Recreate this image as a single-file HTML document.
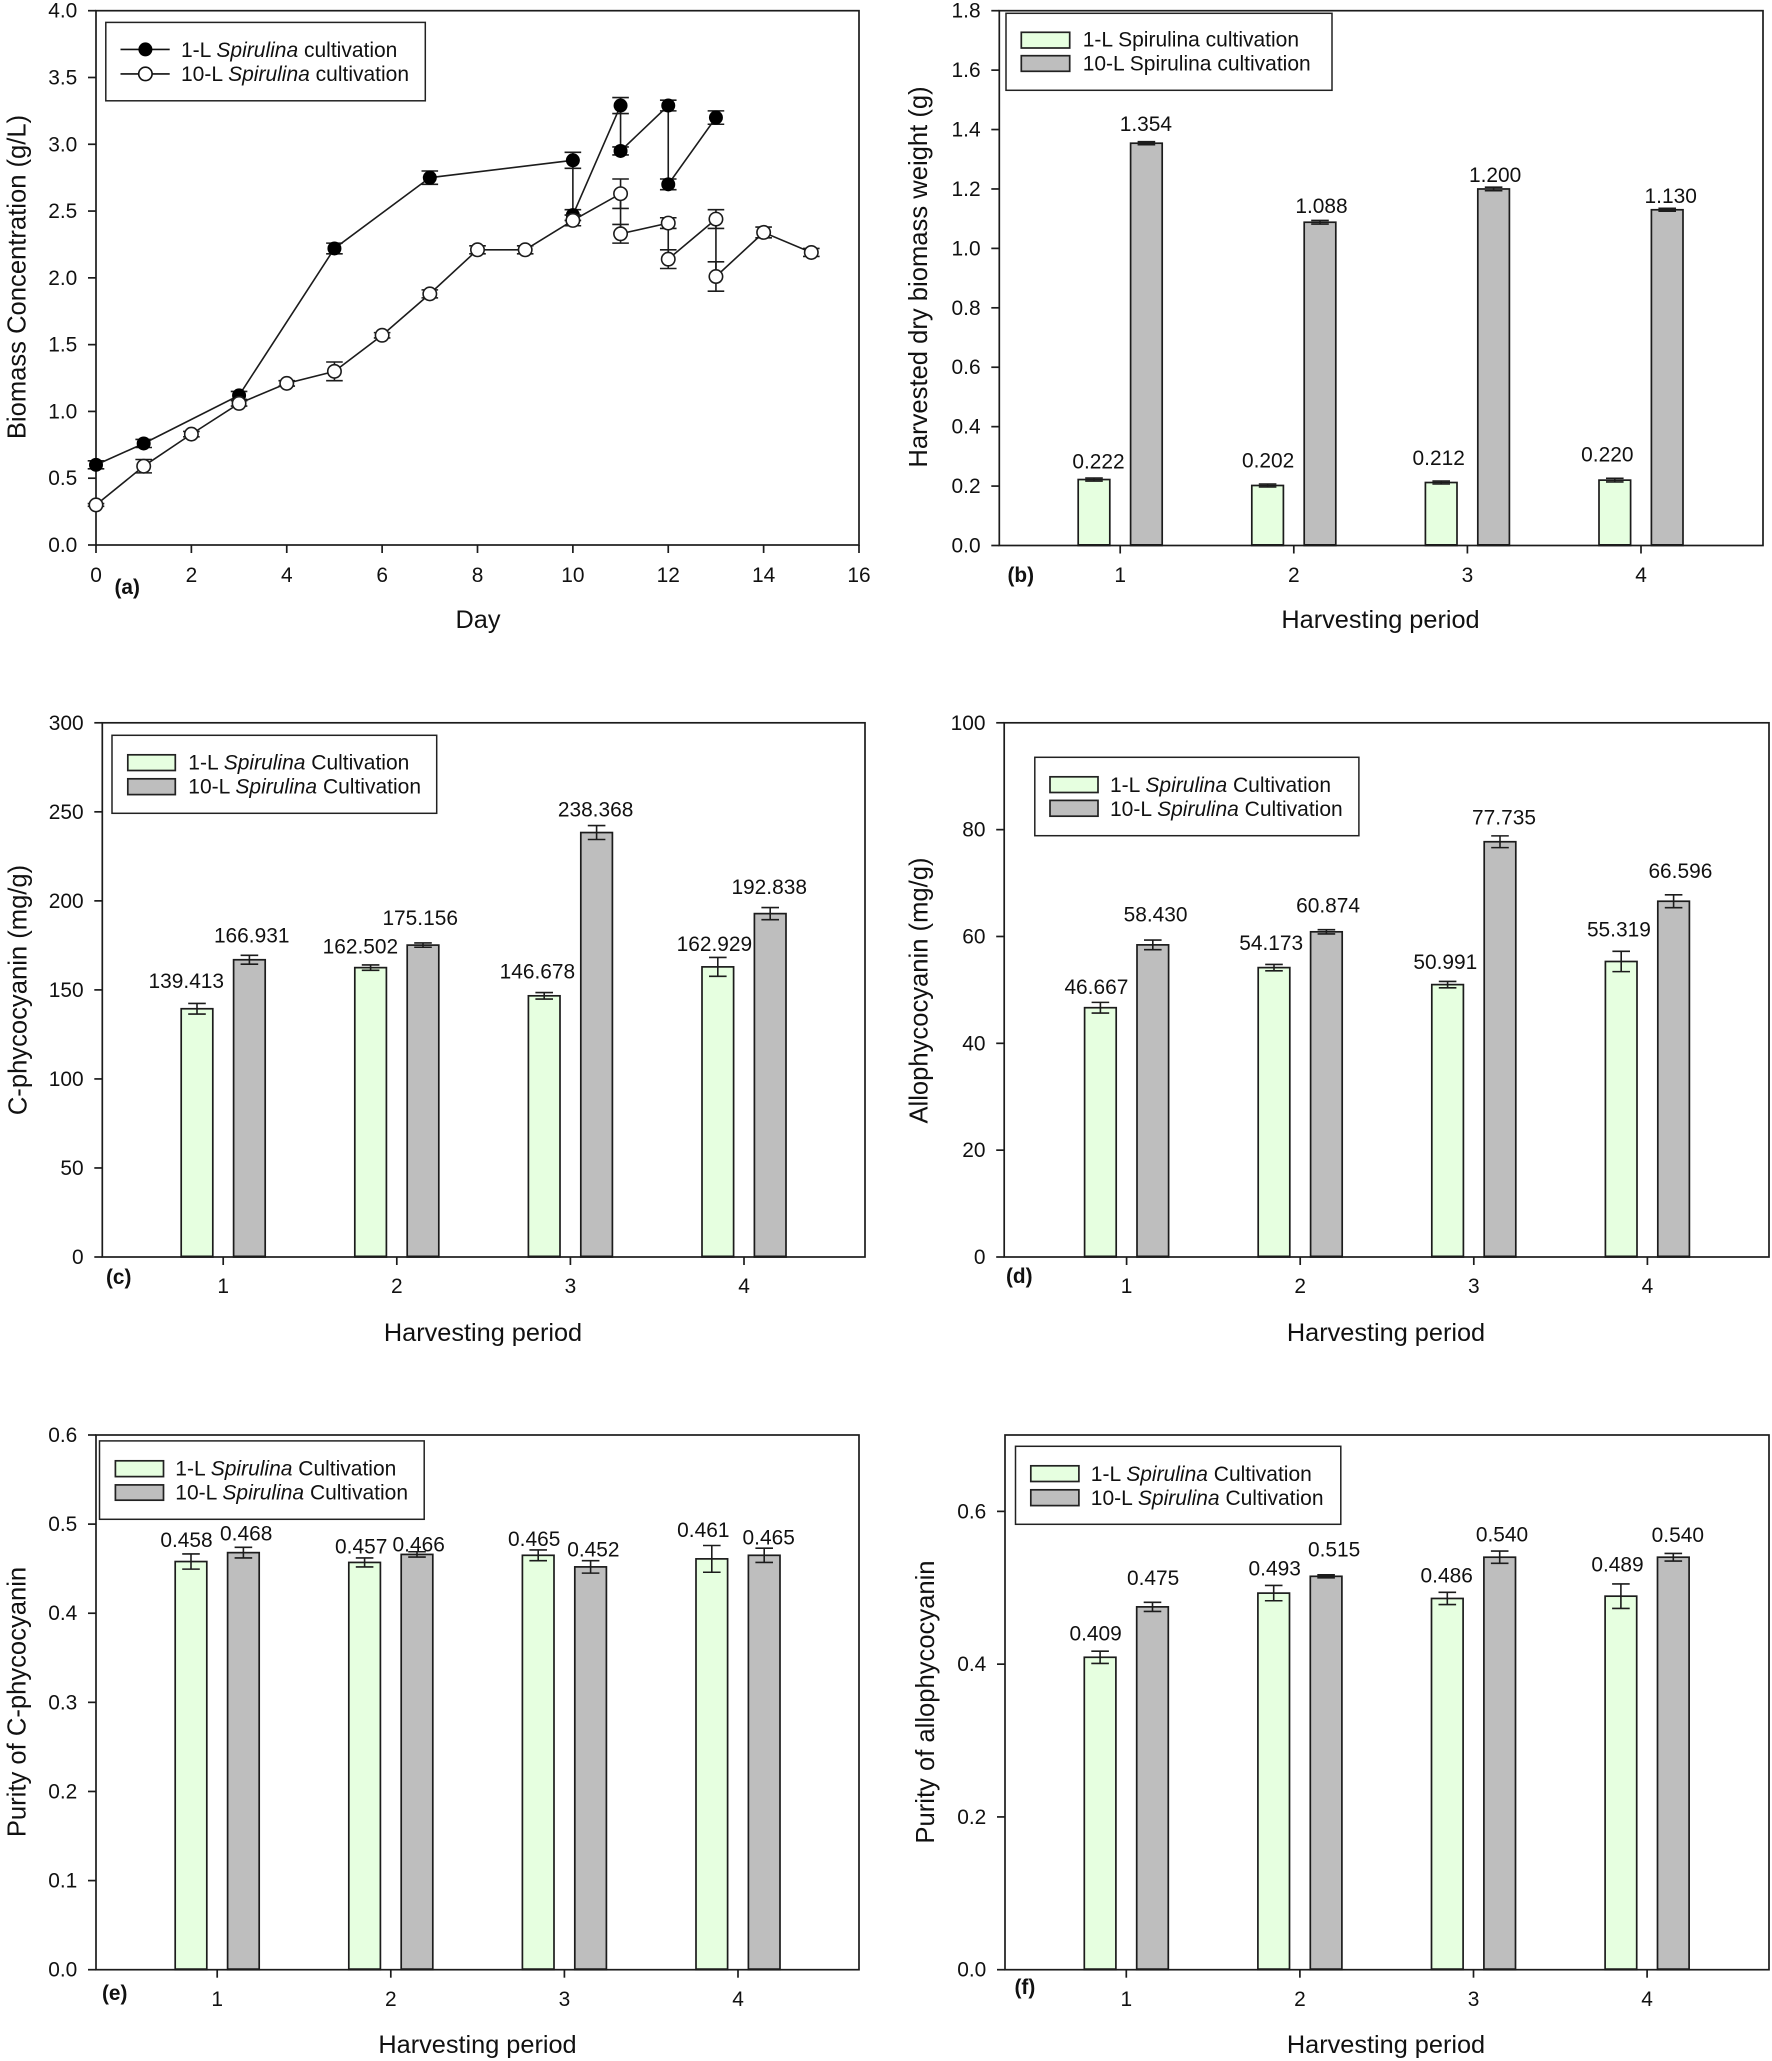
<!DOCTYPE html>
<html lang="en">
<head>
<meta charset="utf-8">
<title>Spirulina cultivation charts</title>
<style>
  html, body { margin: 0; padding: 0; background: #fff; }
  svg { display: block; }
  text { font-family: "Liberation Sans", sans-serif; fill: #111; }
  .leg { font-size: 21px; }
  .title { font-size: 25.3px; }
  .ytitle { font-size: 25.6px; }
  .tag { font-size: 20.8px; font-weight: bold; }
  .box { fill: #fff; stroke: #222; stroke-width: 1.5; }
  .sw1 { fill: #e6ffe0; stroke: #222; stroke-width: 1.7; }
  .sw2 { fill: #bebebe; stroke: #222; stroke-width: 1.7; }
  i, .it { font-style: italic; }
</style>
</head>
<body>
<svg id="fig" xmlns="http://www.w3.org/2000/svg" width="1772" height="2061" viewBox="0 0 1772 2061">
  <rect x="0" y="0" width="1772" height="2061" fill="#fff"/>

  <g id="panel-a"></g>
  <g id="panel-b"></g>
  <g id="panel-c"></g>
  <g id="panel-d"></g>
  <g id="panel-e"></g>
  <g id="panel-f"></g>

  <!-- Panel a static text -->
  <text class="ytitle" x="25.5" y="277" text-anchor="middle" transform="rotate(-90 25.5 277)">Biomass Concentration (g/L)</text>
  <text class="title" x="478" y="628" text-anchor="middle">Day</text>
  <text class="tag" x="114.5" y="594">(a)</text>
  <g>
    <rect class="box" x="105.8" y="22.4" width="319.5" height="78.4"/>
    <line x1="120.5" y1="49.4" x2="169.7" y2="49.4" stroke="#111" stroke-width="1.6"/>
    <circle cx="145.4" cy="49.4" r="7" fill="#000"/>
    <line x1="120.5" y1="73.9" x2="169.7" y2="73.9" stroke="#111" stroke-width="1.6"/>
    <circle cx="145.4" cy="73.9" r="6.7" fill="#fff" stroke="#111" stroke-width="1.6"/>
    <text class="leg" x="181" y="56.8">1-L <tspan class="it">Spirulina</tspan> cultivation</text>
    <text class="leg" x="181" y="80.9">10-L <tspan class="it">Spirulina</tspan> cultivation</text>
  </g>

  <!-- Panel b static text -->
  <text class="ytitle" x="927" y="277" text-anchor="middle" transform="rotate(-90 927 277)">Harvested dry biomass weight (g)</text>
  <text class="title" x="1380.5" y="628" text-anchor="middle">Harvesting period</text>
  <text class="tag" x="1007.5" y="582">(b)</text>
  <g>
    <rect class="box" x="1006" y="13.3" width="326" height="77"/>
    <rect class="sw1" x="1021.3" y="32.3" width="48.4" height="15.7"/>
    <rect class="sw2" x="1021.3" y="55.7" width="48.4" height="15.6"/>
    <text class="leg" x="1082.7" y="46.7">1-L Spirulina cultivation</text>
    <text class="leg" x="1082.7" y="70.7">10-L Spirulina cultivation</text>
  </g>

  <!-- Panel c static text -->
  <text class="ytitle" x="26.5" y="990" text-anchor="middle" transform="rotate(-90 26.5 990)">C-phycocyanin (mg/g)</text>
  <text class="title" x="483" y="1341" text-anchor="middle">Harvesting period</text>
  <text class="tag" x="106" y="1284">(c)</text>
  <g>
    <rect class="box" x="112" y="735.3" width="324.7" height="78"/>
    <rect class="sw1" x="127.8" y="754.8" width="47.5" height="15.7"/>
    <rect class="sw2" x="127.8" y="778.8" width="47.5" height="15.8"/>
    <text class="leg" x="188.3" y="769.7">1-L <tspan class="it">Spirulina</tspan> Cultivation</text>
    <text class="leg" x="188.3" y="793.4">10-L <tspan class="it">Spirulina</tspan> Cultivation</text>
  </g>

  <!-- Panel d static text -->
  <text class="ytitle" x="927.3" y="990.5" text-anchor="middle" transform="rotate(-90 927.3 990.5)">Allophycocyanin (mg/g)</text>
  <text class="title" x="1386" y="1341" text-anchor="middle">Harvesting period</text>
  <text class="tag" x="1006" y="1283">(d)</text>
  <g>
    <rect class="box" x="1034.8" y="757.3" width="324.1" height="78.4"/>
    <rect class="sw1" x="1050" y="776.8" width="48" height="15.7"/>
    <rect class="sw2" x="1050" y="800.4" width="48" height="15.8"/>
    <text class="leg" x="1110" y="792">1-L <tspan class="it">Spirulina</tspan> Cultivation</text>
    <text class="leg" x="1110" y="815.8">10-L <tspan class="it">Spirulina</tspan> Cultivation</text>
  </g>

  <!-- Panel e static text -->
  <text class="ytitle" x="25.5" y="1702" text-anchor="middle" transform="rotate(-90 25.5 1702)">Purity of C-phycocyanin</text>
  <text class="title" x="477.5" y="2053" text-anchor="middle">Harvesting period</text>
  <text class="tag" x="102" y="2000">(e)</text>
  <g>
    <rect class="box" x="99.5" y="1440.9" width="324.7" height="78.4"/>
    <rect class="sw1" x="115.4" y="1460.8" width="48.1" height="15.8"/>
    <rect class="sw2" x="115.4" y="1484.9" width="48.1" height="15.3"/>
    <text class="leg" x="175.3" y="1475.7">1-L <tspan class="it">Spirulina</tspan> Cultivation</text>
    <text class="leg" x="175.3" y="1499.4">10-L <tspan class="it">Spirulina</tspan> Cultivation</text>
  </g>

  <!-- Panel f static text -->
  <text class="ytitle" x="934" y="1702" text-anchor="middle" transform="rotate(-90 934 1702)">Purity of allophycocyanin</text>
  <text class="title" x="1386" y="2053" text-anchor="middle">Harvesting period</text>
  <text class="tag" x="1014.5" y="1994">(f)</text>
  <g>
    <rect class="box" x="1015.5" y="1446.3" width="325.3" height="78"/>
    <rect class="sw1" x="1030.8" y="1465.8" width="48.1" height="15.7"/>
    <rect class="sw2" x="1030.8" y="1489.8" width="48.1" height="15.8"/>
    <text class="leg" x="1090.8" y="1481">1-L <tspan class="it">Spirulina</tspan> Cultivation</text>
    <text class="leg" x="1090.8" y="1505.2">10-L <tspan class="it">Spirulina</tspan> Cultivation</text>
  </g>
</svg>

<script>
// ---- Panel a data ----
const aXTicks = ['0', '2', '4', '6', '8', '10', '12', '14', '16'];
const aYTicks = ['0.0', '0.5', '1.0', '1.5', '2.0', '2.5', '3.0', '3.5', '4.0'];
const aDays1L = [0, 1, 3, 5, 7, 10, 10, 11, 11, 12, 12, 13];
const aBiomass1L = [0.60, 0.76, 1.12, 2.22, 2.75, 2.88, 2.47, 3.29, 2.95, 3.29, 2.70, 3.20];
const aError1L = [0.03, 0.03, 0.03, 0.04, 0.05, 0.06, 0.04, 0.06, 0.03, 0.04, 0.04, 0.05];
const aDays10L = [0, 1, 2, 3, 4, 5, 6, 7, 8, 9, 10, 11, 11, 12, 12, 13, 13, 14, 15];
const aBiomass10L = [0.30, 0.59, 0.83, 1.06, 1.21, 1.30, 1.57, 1.88, 2.21, 2.21, 2.43, 2.63, 2.33, 2.41, 2.14, 2.44, 2.01, 2.34, 2.19];
const aError10L = [0.01, 0.05, 0.02, 0.02, 0.02, 0.07, 0.02, 0.03, 0.03, 0.03, 0.04, 0.11, 0.07, 0.04, 0.07, 0.07, 0.11, 0.04, 0.03];

// ---- Shared category labels ----
const periods = ['1', '2', '3', '4'];

// ---- Panel b data ----
const bYTicks = ['0.0', '0.2', '0.4', '0.6', '0.8', '1.0', '1.2', '1.4', '1.6', '1.8'];
const bValues1L = [0.222, 0.202, 0.212, 0.220];
const bValues10L = [1.354, 1.088, 1.200, 1.130];
const bError1L = [0.005, 0.005, 0.005, 0.006];
const bError10L = [0.005, 0.006, 0.006, 0.005];

// ---- Panel c data ----
const cYTicks = ['0', '50', '100', '150', '200', '250', '300'];
const cValues1L = [139.413, 162.502, 146.678, 162.929];
const cValues10L = [166.931, 175.156, 238.368, 192.838];
const cError1L = [3.0, 1.5, 1.8, 5.3];
const cError10L = [2.5, 1.2, 3.9, 3.4];

// ---- Panel d data ----
const dYTicks = ['0', '20', '40', '60', '80', '100'];
const dValues1L = [46.667, 54.173, 50.991, 55.319];
const dValues10L = [58.430, 60.874, 77.735, 66.596];
const dError1L = [1.0, 0.6, 0.6, 1.9];
const dError10L = [0.9, 0.4, 1.1, 1.2];

// ---- Panel e data ----
const eYTicks = ['0.0', '0.1', '0.2', '0.3', '0.4', '0.5', '0.6'];
const eValues1L = [0.458, 0.457, 0.465, 0.461];
const eValues10L = [0.468, 0.466, 0.452, 0.465];
const eError1L = [0.0085, 0.005, 0.006, 0.015];
const eError10L = [0.006, 0.003, 0.007, 0.008];

// ---- Panel f data ----
const fYTicks = ['0.0', '0.2', '0.4', '0.6'];
const fValues1L = [0.409, 0.493, 0.486, 0.489];
const fValues10L = [0.475, 0.515, 0.540, 0.540];
const fError1L = [0.008, 0.010, 0.008, 0.016];
const fError10L = [0.006, 0.002, 0.008, 0.005];

const NS = 'http://www.w3.org/2000/svg';
const INK = '#1c1c1c';

function add(tag, parent, name, attrs) {
  const el = document.createElementNS(NS, tag);
  
  
  for (const k in attrs) el.setAttribute(k, attrs[k]);
  parent.appendChild(el);
  return el;
}

function line(parent, name, x1, y1, x2, y2, w) {
  return add('line', parent, name, { x1: x1, y1: y1, x2: x2, y2: y2, stroke: INK, 'stroke-width': w || 1.7 });
}

function label(parent, name, x, y, str, anchor) {
  const t = add('text', parent, name, { x: x, y: y, 'text-anchor': anchor || 'middle', 'font-size': 20.9 });
  t.textContent = str;
  return t;
}

function axes(g, box, yTicks, yMax) {
  const yAt = function (v) { return box.bottom - (v / yMax) * (box.bottom - box.top); };
  add('rect', g, 'plot-frame', {
    x: box.left, y: box.top, width: box.right - box.left, height: box.bottom - box.top,
    fill: 'none', stroke: INK, 'stroke-width': 1.7
  });
  yTicks.forEach(function (tick) {
    const y = yAt(parseFloat(tick));
    line(g, 'y-tick', box.left - 8, y, box.left, y);
    label(g, 'y-tick-label', box.left - 18.7, y + 7, tick, 'end');
  });
  return yAt;
}

function errorBar(g, name, x, yHi, yLo, cap) {
  line(g, name + '-stem', x, yHi, x, yLo, 1.6);
  line(g, name + '-cap-top', x - cap, yHi, x + cap, yHi, 1.6);
  line(g, name + '-cap-bottom', x - cap, yLo, x + cap, yLo, 1.6);
}

function drawSeries(g, name, xAt, yAt, days, vals, errs, filled) {
  const s = add('g', g, name, {});
  const pts = days.map(function (d, i) { return xAt(d) + ',' + yAt(vals[i]); }).join(' ');
  add('polyline', s, name + '-line', { points: pts, fill: 'none', stroke: INK, 'stroke-width': 1.6 });
  days.forEach(function (d, i) {
    errorBar(s, name + '-error', xAt(d), yAt(vals[i] + errs[i]), yAt(vals[i] - errs[i]), 8.3);
  });
  days.forEach(function (d, i) {
    add('circle', s, name + '-point', filled
      ? { cx: xAt(d), cy: yAt(vals[i]), r: 7, fill: '#000' }
      : { cx: xAt(d), cy: yAt(vals[i]), r: 6.7, fill: '#fff', stroke: INK, 'stroke-width': 1.6 });
  });
}

function linePanel() {
  const g = document.getElementById('panel-a');
  const box = { left: 96, right: 859, top: 10.7, bottom: 545 };
  const yAt = axes(g, box, aYTicks, 4);
  const xAt = function (d) { return box.left + (d / 16) * (box.right - box.left); };
  aXTicks.forEach(function (tick) {
    const x = xAt(parseFloat(tick));
    line(g, 'x-tick', x, box.bottom, x, box.bottom + 8);
    label(g, 'x-tick-label', x, box.bottom + 37, tick);
  });
  drawSeries(g, 'series-1l', xAt, yAt, aDays1L, aBiomass1L, aError1L, true);
  drawSeries(g, 'series-10l', xAt, yAt, aDays10L, aBiomass10L, aError10L, false);
}

function barPanel(id, box, layout, yTicks, yMax, small, large, smallErr, largeErr, nudgeSmall, nudgeLarge) {
  const g = document.getElementById(id);
  const yAt = axes(g, box, yTicks, yMax);
  const xAt = function (i) { return layout.first + i * 173.6; };
  periods.forEach(function (cat, i) {
    const x = xAt(i);
    line(g, 'x-tick', x, box.bottom, x, box.bottom + 8);
    label(g, 'x-tick-label', x, box.bottom + layout.tickText, cat);
  });
  const series = [
    { name: 'bar-1l', vals: small, errs: smallErr, fill: '#e6ffe0', off: -26.2, nudge: nudgeSmall },
    { name: 'bar-10l', vals: large, errs: largeErr, fill: '#bebebe', off: 26.2, nudge: nudgeLarge }
  ];
  series.forEach(function (s) {
    s.vals.forEach(function (v, i) {
      const cx = xAt(i) + s.off;
      const top = yAt(v);
      add('rect', g, s.name + '-period-' + periods[i], {
        x: cx - 15.8, y: top, width: 31.6, height: box.bottom - top,
        fill: s.fill, stroke: INK, 'stroke-width': 1.7
      });
      line(g, s.name + '-base', cx - 15.8, box.bottom - 0.5, cx + 15.8, box.bottom - 0.5, 2);
      errorBar(g, s.name + '-error', cx, yAt(v + s.errs[i]), yAt(v - s.errs[i]), 8.8);
      label(g, s.name + '-value', cx + s.nudge[i][0], top - s.nudge[i][1], v.toFixed(3));
    });
  });
}

linePanel();

barPanel('panel-b',
  { left: 999.3, right: 1763, top: 10.7, bottom: 545.5 },
  { first: 1120.2, tickText: 36.5 },
  bYTicks, 1.8, bValues1L, bValues10L, bError1L, bError10L,
  [[4.5, 11.2], [0.5, 18.2], [-2.5, 17.4], [-7.5, 18.6]],
  [[-0.5, 12.4], [1.5, 9.1], [1.5, 7], [3.5, 6.6]]);

barPanel('panel-c',
  { left: 102.3, right: 865, top: 722.8, bottom: 1257 },
  { first: 223.2, tickText: 36 },
  cYTicks, 300, cValues1L, cValues10L, cError1L, cError10L,
  [[-10.7, 20.7], [-10.2, 14.1], [-6.8, 17.4], [-3.4, 15.8]],
  [[2.3, 17.4], [-2.8, 20.3], [-1, 16.2], [-1, 19.5]]);

barPanel('panel-d',
  { left: 1004.2, right: 1769, top: 722.8, bottom: 1257 },
  { first: 1126.6, tickText: 36 },
  dYTicks, 100, dValues1L, dValues10L, dError1L, dError10L,
  [[-4, 13.7], [-2.8, 17.8], [-2.3, 15.8], [-2.3, 24.9]],
  [[2.8, 23.2], [1.7, 19.5], [4, 17.4], [6.8, 23.2]]);

barPanel('panel-e',
  { left: 96, right: 859, top: 1435, bottom: 1969.7 },
  { first: 217.2, tickText: 36.3 },
  eYTicks, 0.6, eValues1L, eValues10L, eError1L, eError10L,
  [[-4.5, 14.5], [-3.4, 8.7], [-4, 9.5], [-8.5, 22]],
  [[2.8, 12], [1.7, 2.9], [2.8, 10.4], [4.5, 10.8]]);

barPanel('panel-f',
  { left: 1005, right: 1769, top: 1435, bottom: 1969.7 },
  { first: 1126.3, tickText: 36.3 },
  fYTicks, 0.7, fValues1L, fValues10L, fError1L, fError10L,
  [[-4.5, 16.6], [1, 17.8], [-0.6, 15.8], [-3.4, 24.9]],
  [[0.6, 22], [8, 20], [2.3, 15.8], [4.5, 15]]);
</script>
</body>
</html>
